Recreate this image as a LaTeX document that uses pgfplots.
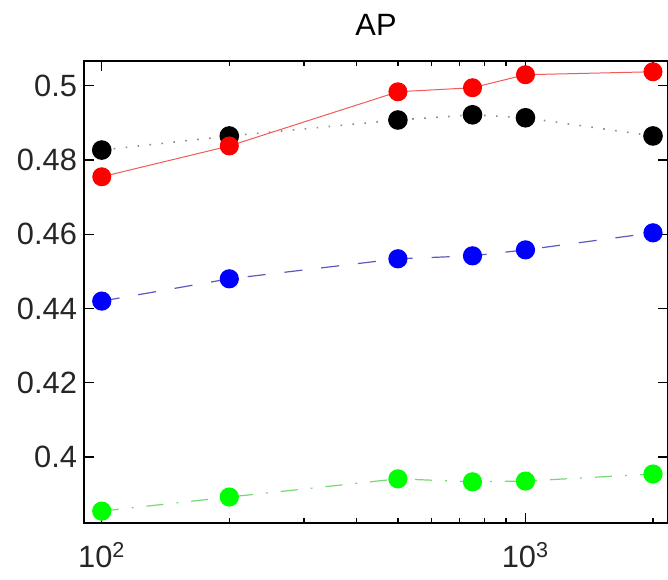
\documentclass[border=0pt]{standalone}
\usepackage{fontspec}
\setmainfont{Liberation Sans}
\usepackage{pgfplots}
\pgfplotsset{compat=1.18}
\definecolor{lineblue}{rgb}{0.35,0.35,0.75}
\definecolor{linegreen}{rgb}{0.45,0.85,0.45}
\definecolor{linered}{rgb}{0.95,0.35,0.35}
\begin{document}
\begin{tikzpicture}
\begin{axis}[
  scale only axis,
  width=292pt, height=231pt,
  xmode=log,
  xmin=90.8, xmax=2170,
  ymin=0.3822, ymax=0.5067,
  xtick={100,1000},
  xticklabels={10\textsuperscript{2},10\textsuperscript{3}},
  minor xtick={200,300,400,500,600,700,800,900,2000},
  ytick={0.40,0.42,0.44,0.46,0.48,0.50},
  yticklabels={0.4,0.42,0.44,0.46,0.48,0.5},
  tick align=inside,
  major tick length=5pt,
  minor tick length=2.5pt,
  tick style={black, line width=0.6pt},
  axis line style={line width=0.8pt},
  tick label style={font=\fontsize{15.4}{18}\selectfont, text=black!85},
  xticklabel style={yshift=-6pt},
  title={AP},
  title style={font=\fontsize{15.4}{18}\selectfont, yshift=3pt},
  every axis plot/.append style={line width=0.5pt},
]
\addplot[black!45, line width=0.8pt, dash pattern=on 0.8pt off 5.2pt, mark=*, mark size=4.5pt, mark options={solid, fill=black, draw=black}]
  coordinates {(100,0.4827) (200,0.4865) (500,0.4908) (750,0.4922) (1000,0.4914) (2000,0.4865)};
\addplot[linered, solid, mark=*, mark size=4.5pt, mark options={solid, fill=red, draw=red}]
  coordinates {(100,0.4755) (200,0.4838) (500,0.4984) (750,0.4995) (1000,0.5030) (2000,0.5038)};
\addplot[lineblue, line width=0.6pt, dash pattern=on 9pt off 9.5pt, mark=*, mark size=4.5pt, mark options={solid, fill=blue, draw=blue}]
  coordinates {(100,0.4420) (200,0.4480) (500,0.4534) (750,0.4542) (1000,0.4558) (2000,0.4604)};
\addplot[linegreen, line width=0.6pt, dash pattern=on 8.5pt off 6.5pt on 1pt off 6.5pt, mark=*, mark size=4.5pt, mark options={solid, fill=green, draw=green}]
  coordinates {(100,0.3854) (200,0.3892) (500,0.3941) (750,0.3933) (1000,0.3935) (2000,0.3954)};
\end{axis}
\pgfresetboundingbox
\path ([shift={(-42pt,-28pt)}]current axis.south west) rectangle ([shift={(0pt,30.5pt)}]current axis.north east);
\end{tikzpicture}
\end{document}
